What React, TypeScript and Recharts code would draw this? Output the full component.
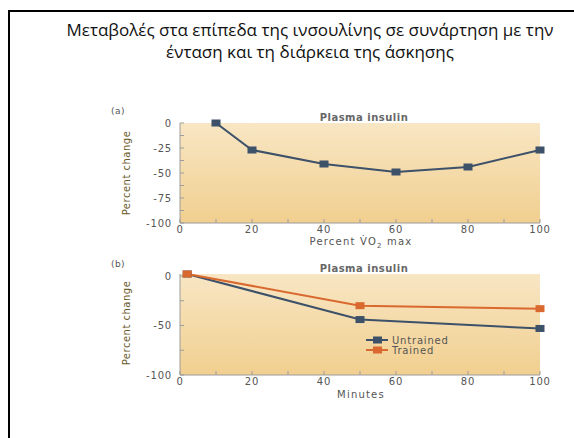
import React from 'react';
import { LineChart, Line, XAxis, YAxis, CartesianGrid, Legend } from 'recharts';

// (a) insulin change vs exercise intensity
const intensityPct = [10, 20, 40, 60, 80, 100];
const insulinByIntensity = [0, -27, -41, -49, -44, -27];

// (b) insulin change vs duration
const minutes = [2, 50, 100];
const untrained = [2, -44, -53];
const trained = [2, -30, -33];
const seriesOrder = ['Untrained', 'Trained'];

const xTicks = [0, 10, 20, 30, 40, 50, 60, 70, 80, 90, 100];
const yTicksA = [-100, -87.5, -75, -62.5, -50, -37.5, -25, -12.5, 0];
const yTicksB = [-100, -75, -50, -25, 0];

const navy = '#3d5169';
const orange = '#d9692e';
const axisGray = '#9c9c9c';
const tickText = { fill: '#555', fontSize: 10, fontFamily: 'DejaVu Sans', letterSpacing: 0.8 };

const dataA = intensityPct.map((x, i) => ({ x, y: insulinByIntensity[i] }));
const dataB = minutes.map((m, i) => ({ m, untrained: untrained[i], trained: trained[i] }));

const square = (color: string) => (props: any) => {
    const { cx, cy, index } = props;
    return <rect key={`sq-${index}`} x={cx - 4.5} y={cy - 3.5} width={9} height={7} fill={color} />;
};

const LegendBox = (props: any) => {
    const items = [...(props.payload || [])].sort(
        (a: any, b: any) => seriesOrder.indexOf(a.value) - seriesOrder.indexOf(b.value),
    );
    return (
        <div style={{ fontFamily: 'DejaVu Sans', fontSize: 10, color: '#555', letterSpacing: 0.8 }}>
            {items.map((it: any) => (
                <div key={it.value} style={{ display: 'flex', alignItems: 'center', height: 10 }}>
                    <svg width={24} height={8}>
                        <line x1={0} x2={22} y1={4} y2={4} stroke={it.color} strokeWidth={2} />
                        <rect x={7} y={0.5} width={9} height={7} fill={it.color} />
                    </svg>
                    <span style={{ marginLeft: 2 }}>{it.value}</span>
                </div>
            ))}
        </div>
    );
};

const Txt: React.FC<{ x: number; y: number; size?: number; color?: string; weight?: number; rotate?: boolean; spacing?: number; children: React.ReactNode }> = ({
    x, y, size = 10, color = '#555', weight = 400, rotate = false, spacing = 0.5, children,
}) => (
    <div
        style={{
            position: 'absolute', left: x, top: y, whiteSpace: 'nowrap',
            transform: `translate(-50%, -50%)${rotate ? ' rotate(-90deg)' : ''}`,
            fontFamily: 'DejaVu Sans', fontSize: size, color, fontWeight: weight, letterSpacing: spacing, lineHeight: 1,
        }}
    >
        {children}
    </div>
);

const Bg = ({ id }: { id: string }) => (
    <defs>
        <linearGradient id={id} x1="0" y1="0" x2="0" y2="1">
            <stop offset="0%" stopColor="#f8e6c4" />
            <stop offset="100%" stopColor="#f1cf8f" />
        </linearGradient>
    </defs>
);

export default function App() {
    const evenLabel = (v: number) => (v % 20 === 0 ? String(v) : '');
    return (
        <div style={{ position: 'absolute', left: 0, top: 0, width: 574, height: 438, background: '#fff', overflow: 'hidden' }}>
            <div style={{ position: 'absolute', left: 8, top: 10, width: 570, height: 2, background: '#000' }} />
            <div style={{ position: 'absolute', left: 8, top: 10, width: 2, height: 440, background: '#000' }} />
            <div
                style={{
                    position: 'absolute', left: 20, width: 580, top: 19, textAlign: 'center',
                    fontFamily: 'Open Sans', fontSize: 17, lineHeight: '22px', color: '#111',
                }}
            >
                Μεταβολές στα επίπεδα της ινσουλίνης σε συνάρτηση με την
                <br />
                ένταση και τη διάρκεια της άσκησης
            </div>

            {/* panel (a) */}
            <div style={{ position: 'absolute', left: 100, top: 95 }}>
                <LineChart width={460} height={170} data={dataA} margin={{ top: 28, right: 20, bottom: 12, left: 0 }}>
                    <Bg id="bgA" />
                    <CartesianGrid horizontal={false} vertical={false} fill="url(#bgA)" stroke="none" />
                    <XAxis
                        type="number" dataKey="x" domain={[0, 100]} ticks={xTicks} tickFormatter={evenLabel} interval={0}
                        height={30} tickSize={-4} tickMargin={7} stroke={axisGray} tickLine={{ stroke: axisGray }} tick={tickText}
                    />
                    <YAxis
                        type="number" domain={[-100, 0]} ticks={yTicksA} width={80} interval={0}
                        tickFormatter={(v: number) => (v % 25 === 0 ? String(v) : '')}
                        tickSize={-4} tickMargin={12} stroke={axisGray} tickLine={{ stroke: axisGray }} tick={tickText}
                    />
                    <Line type="linear" dataKey="y" stroke={navy} strokeWidth={2} dot={square(navy)} activeDot={false} isAnimationActive={false} />
                </LineChart>
            </div>
            <Txt x={118} y={111} size={9}>(a)</Txt>
            <Txt x={364} y={118} color="#666" weight={600}>Plasma insulin</Txt>
            <Txt x={127} y={173} color="#6b5a2c" rotate>Percent change</Txt>
            <Txt x={361} y={243} size={10} spacing={1.2}>
                Percent V̇O<sub style={{ fontSize: 7 }}>2</sub> max
            </Txt>

            {/* panel (b) */}
            <div style={{ position: 'absolute', left: 100, top: 246 }}>
                <LineChart width={460} height={171} data={dataB} margin={{ top: 28, right: 20, bottom: 12, left: 0 }}>
                    <Bg id="bgB" />
                    <CartesianGrid horizontal={false} vertical={false} fill="url(#bgB)" stroke="none" />
                    <XAxis
                        type="number" dataKey="m" domain={[0, 100]} ticks={xTicks} tickFormatter={evenLabel} interval={0}
                        height={30} tickSize={-4} tickMargin={7} stroke={axisGray} tickLine={{ stroke: axisGray }} tick={tickText}
                    />
                    <YAxis
                        type="number" domain={[-100, 0]} ticks={yTicksB} width={80} interval={0}
                        tickFormatter={(v: number) => (v % 50 === 0 ? String(v) : '')}
                        tickSize={-4} tickMargin={12} stroke={axisGray} tickLine={{ stroke: axisGray }} tick={tickText}
                    />
                    <Legend
                        layout="vertical" verticalAlign="middle" align="center" content={LegendBox}
                        wrapperStyle={{ left: 266, top: 89, width: 120 }}
                    />
                    <Line name="Untrained" type="linear" dataKey="untrained" stroke={navy} strokeWidth={2} dot={square(navy)} activeDot={false} isAnimationActive={false} />
                    <Line name="Trained" type="linear" dataKey="trained" stroke={orange} strokeWidth={2} dot={square(orange)} activeDot={false} isAnimationActive={false} />
                </LineChart>
            </div>
            <Txt x={118} y={264} size={9}>(b)</Txt>
            <Txt x={364} y={269} color="#666" weight={600}>Plasma insulin</Txt>
            <Txt x={127} y={323} color="#6b5a2c" rotate>Percent change</Txt>
            <Txt x={361} y={395} size={10} spacing={1.2}>Minutes</Txt>
        </div>
    );
}
